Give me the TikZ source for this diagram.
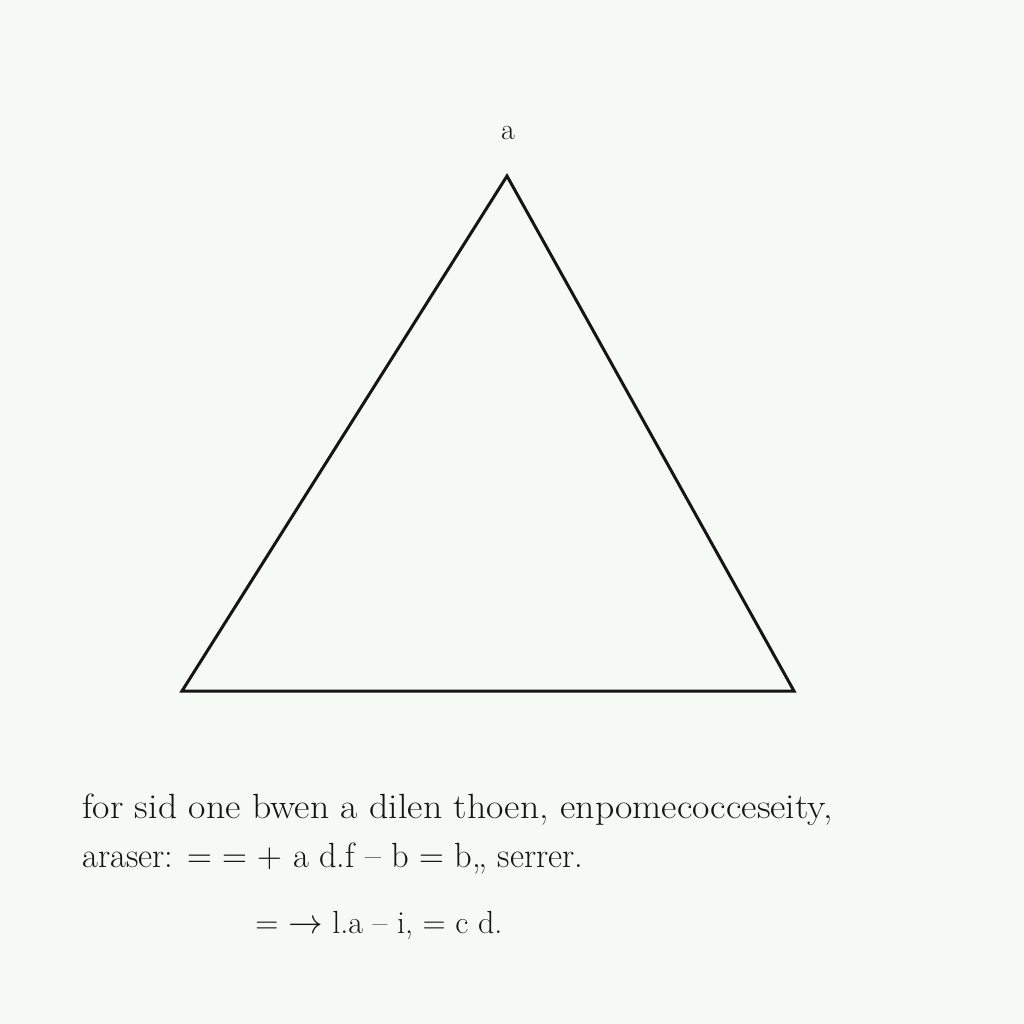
\documentclass[tikz,border=0pt]{standalone}
\definecolor{bg}{HTML}{F6FAF4}
\definecolor{ink}{HTML}{151515}
\tikzset{
  edge/.style={draw=ink, line width=1.5pt, line join=miter},
  txt/.style={anchor=base west, inner sep=0pt, text=ink, font=\fontsize{17.5}{20}\selectfont},
}
\begin{document}
\begin{tikzpicture}[x=0.5pt,y=-0.5pt]
\fill[bg] (0,0) rectangle (1024,1024);
\useasboundingbox (0,0) rectangle (1024,1024);
\coordinate (A) at (507,176);
\coordinate (B) at (182,691);
\coordinate (C) at (794,691);
\draw[edge] (A) -- (B) -- (C) -- cycle;
\node[anchor=base, inner sep=0pt, text=ink, font=\fontsize{15}{17}\selectfont] (la) at (508,139) {a};
\node[txt] (l1) at (82,818) {\scalebox{1.08}[1]{for sid one bwen a dilen thoen, enpomecocceseity,}};
\node[txt] (l2) at (82,867) {\scalebox{0.985}[1]{araser: = = + a d.f -- b = b,, serrer.}};
\node[txt, font=\fontsize{16}{18}\selectfont] (l3) at (255,933) {= $\rightarrow$ l.a -- i, = c d.};
\end{tikzpicture}
\end{document}
